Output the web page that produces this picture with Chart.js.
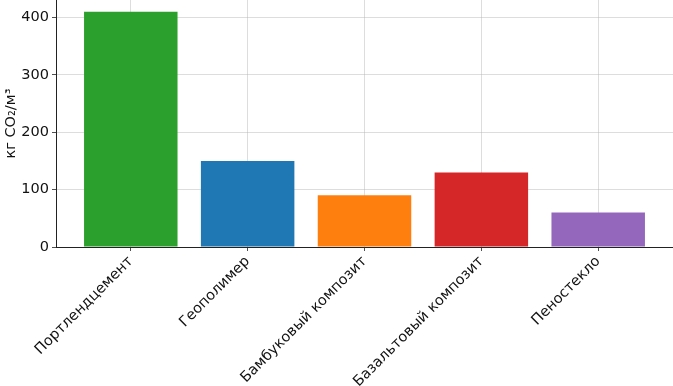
<!DOCTYPE html>
<html>
<head>
<meta charset="utf-8">
<script src="https://cdn.jsdelivr.net/npm/chart.js@4/dist/chart.umd.min.js"></script>
<style>
  html, body { margin: 0; padding: 0; background: #fff; }
  #wrap { width: 673px; height: 386px; }
</style>
</head>
<body>
<div id="wrap"><canvas id="chart"></canvas></div>
<script>
// --- data ---
const materials = ['Портлендцемент', 'Геополимер', 'Бамбуковый композит', 'Базальтовый композит', 'Пеностекло'];
const emissions = [410, 150, 90, 130, 60];
const barColors = ['#2ca02c', '#1f77b4', '#ff7f0e', '#d62728', '#9467bd'];
const yTicks = [0, 100, 200, 300, 400];

const FONT = { family: 'DejaVu Sans', size: 14.5 };
const gridColor = 'rgba(176, 176, 176, 0.55)';

const points = emissions.map((v, i) => ({ x: i, y: v }));

const gridOpts = {
    color: gridColor,
    lineWidth: 0.8,
    borderDash: [3, 1.3],
    offset: false,
    tickColor: '#222',
    tickLength: 4,
    tickBorderDash: []
};

new Chart(document.getElementById('chart'), {
    type: 'bar',
    data: {
        datasets: [{
            data: points,
            backgroundColor: barColors,
            borderWidth: 0,
            barPercentage: 0.8,
            categoryPercentage: 1.0
        }]
    },
    options: {
        responsive: true,
        maintainAspectRatio: false,
        animation: false,
        layout: { padding: 0 },
        plugins: {
            legend: { display: false },
            tooltip: { enabled: false }
        },
        scales: {
            x: {
                type: 'linear',
                min: -0.64,
                max: 4.64,
                offset: false,
                z: 1,
                afterBuildTicks: (axis) => {
                    axis.ticks = materials.map((_, i) => ({ value: i }));
                },
                afterFit: (axis) => {
                    axis.height = 139;
                    axis.paddingLeft = 0;
                    axis.paddingRight = 0;
                },
                ticks: {
                    callback: (v) => materials[v],
                    maxRotation: 45,
                    minRotation: 45,
                    autoSkip: false,
                    padding: 2,
                    color: '#111',
                    font: FONT
                },
                grid: gridOpts,
                border: { display: true, color: '#222', width: 1 }
            },
            y: {
                min: 0,
                max: 430.5,
                z: 1,
                afterBuildTicks: (axis) => {
                    axis.ticks = yTicks.map(v => ({ value: v }));
                },
                afterFit: (axis) => {
                    axis.width = 56;
                    axis.paddingTop = 0;
                    axis.paddingBottom = 0;
                },
                ticks: {
                    padding: 3,
                    color: '#111',
                    font: FONT
                },
                title: {
                    display: true,
                    text: 'кг CO₂/м³',
                    color: '#111',
                    font: FONT,
                    padding: { top: 3, bottom: 0 }
                },
                grid: gridOpts,
                border: { display: true, color: '#222', width: 1 }
            }
        }
    }
});
</script>
</body>
</html>
